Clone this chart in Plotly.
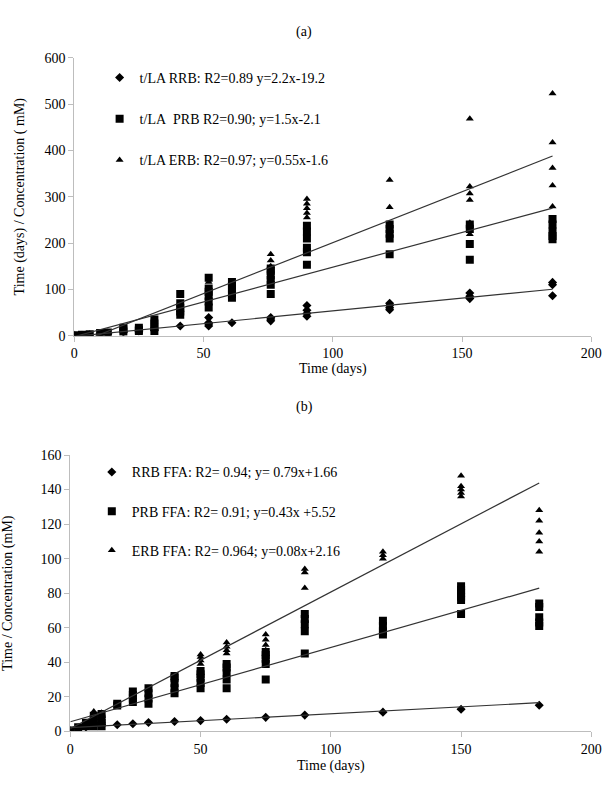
import numpy as np
import plotly.graph_objects as go

# ---------------- Panel (a) data ----------------
a_rrb_x = [0, 3, 6, 10, 13, 19, 25, 31, 41, 52, 52, 52, 52, 61, 76, 76, 76,
           90, 90, 90, 90, 122, 122, 122, 122, 153, 153, 153, 185, 185, 185]
a_rrb_y = [0.5, 1, 2, 4, 4, 8, 10, 12, 21, 21, 25, 28, 39, 28, 32, 36, 39,
           42, 48, 55, 65, 56, 60, 65, 70, 80, 85, 92, 86, 110, 115]

a_prb_x = [0, 3, 6, 10, 13, 19, 19, 19, 25, 25, 25, 31, 31, 31, 31,
           41, 41, 41, 41, 41, 52, 52, 52, 52, 52, 52, 61, 61, 61, 61, 61,
           76, 76, 76, 76, 76, 76, 90, 90, 90, 90, 90, 90,
           122, 122, 122, 122, 122, 153, 153, 153, 153, 185, 185, 185, 185, 185]
a_prb_y = [1, 2, 3, 6, 7, 9, 14, 17, 10, 13, 17, 10, 18, 26, 35,
           45, 52, 60, 70, 90, 61, 74, 85, 95, 102, 125, 82, 90, 100, 108, 116,
           90, 110, 120, 130, 140, 145, 153, 180, 190, 210, 225, 237,
           176, 210, 220, 230, 240, 164, 198, 230, 240, 208, 215, 225, 240, 252]

a_erb_x = [0, 3, 6, 10, 13, 31, 41, 52, 52, 61, 76, 76, 76,
           90, 90, 90, 90, 90, 122, 122, 153, 153, 153, 153, 153, 153,
           185, 185, 185, 185, 185]
a_erb_y = [1, 2, 3, 7, 8, 20, 55, 100, 116, 105, 150, 162, 176,
           255, 265, 275, 285, 295, 277, 336, 219, 244, 293, 307, 322, 468,
           279, 324, 362, 417, 523]

# trend lines as drawn (slope, intercept) for RRB, PRB, ERB point clouds
a_slope = [0.55, 1.5, 2.2]
a_icpt = [-1.6, -2.1, -19.2]
a_labels = ["t/LA RRB: R2=0.89 y=2.2x-19.2",
            "t/LA\u00a0 PRB R2=0.90; y=1.5x-2.1",
            "t/LA ERB: R2=0.97; y=0.55x-1.6"]

# ---------------- Panel (b) data ----------------
b_rrb_x = [0, 3, 6, 9, 12, 18, 24, 30, 40, 50, 60, 75, 90, 120, 150, 180]
b_rrb_y = [0.5, 1.5, 2.5, 3.5, 3.8, 3.8, 4.4, 5.1, 5.7, 6.2, 7, 8.1, 9.4, 11.1, 12.8, 15.1]

b_prb_x = [0, 3, 6, 6, 6, 9, 9, 9, 9, 12, 12, 12, 12, 18, 18,
           24, 24, 24, 24, 30, 30, 30, 30, 40, 40, 40, 40, 40,
           50, 50, 50, 50, 50, 60, 60, 60, 60, 60, 75, 75, 75, 75, 75,
           90, 90, 90, 90, 90, 120, 120, 120, 120,
           150, 150, 150, 150, 150, 150, 180, 180, 180, 180, 180]
b_prb_y = [0.5, 2.4, 3, 4, 5, 3, 5, 7, 9, 3, 5, 7, 10, 15, 16,
           17, 19, 21, 23, 16, 19, 22, 25, 22, 25, 28, 31, 32,
           25, 28, 31, 33, 35, 25, 30, 34, 37, 39, 30, 39, 42, 44, 46,
           45, 58, 62, 65, 68, 56, 58, 61, 64,
           68, 76, 78, 80, 82, 84, 61, 63, 66, 72, 74]

b_erb_x = [0, 3, 6, 9, 9, 9, 12, 12, 50, 50, 50, 50, 60, 60, 60, 60,
           75, 75, 75, 75, 90, 90, 90, 120, 120, 120,
           150, 150, 150, 150, 150, 180, 180, 180, 180, 180]
b_erb_y = [0.5, 2.5, 5, 8, 10, 11.5, 9, 10.8, 39, 41, 43, 44.5, 45, 47, 49, 51.5,
           47, 50, 53, 56, 83, 92, 94, 100, 102, 104,
           136, 138, 140, 142, 148, 104, 110, 115, 122, 128]

# trend lines as drawn (slope, intercept) for RRB, PRB, ERB point clouds
b_slope = [0.08, 0.43, 0.79]
b_icpt = [2.16, 5.52, 1.66]
b_labels = ["RRB FFA: R2= 0.94; y= 0.79x+1.66",
            "PRB FFA: R2= 0.91; y=0.43x +5.52",
            "ERB FFA: R2= 0.964; y=0.08x+2.16"]

FONT = "Liberation Serif"
symbols = ["diamond", "square", "triangle-up"]
sizes = [7, 8, 7]

fig = go.Figure()


def add_panel(xs_list, ys_list, slopes, icpts, labels, xaxis, yaxis, legend):
    for i, (xs, ys) in enumerate(zip(xs_list, ys_list)):
        fig.add_trace(go.Scatter(
            x=xs, y=ys, mode="markers", name=labels[i],
            marker=dict(symbol=symbols[i], size=sizes[i], color="black"),
            xaxis=xaxis, yaxis=yaxis, legend=legend,
            legendgroup=legend + str(i), showlegend=True))
    for i, xs in enumerate(xs_list):
        lx = np.array([min(xs), max(xs)], dtype=float)
        ly = slopes[i] * lx + icpts[i]
        fig.add_trace(go.Scatter(
            x=lx, y=ly, mode="lines", line=dict(color="#333333", width=1.2),
            xaxis=xaxis, yaxis=yaxis, showlegend=False, hoverinfo="skip"))


add_panel([a_rrb_x, a_prb_x, a_erb_x], [a_rrb_y, a_prb_y, a_erb_y],
          a_slope, a_icpt, a_labels, "x", "y", "legend")
add_panel([b_rrb_x, b_prb_x, b_erb_x], [b_rrb_y, b_prb_y, b_erb_y],
          b_slope, b_icpt, b_labels, "x2", "y2", "legend2")

W, H = 615, 792
axis_common = dict(showgrid=False, zeroline=False, showline=True,
                   linecolor="#bdbdbd", linewidth=1, ticks="outside",
                   ticklen=5, tickcolor="#bdbdbd",
                   tickfont=dict(family=FONT, size=14, color="black"))

fig.update_layout(
    width=W, height=H, margin=dict(l=0, r=0, t=0, b=0),
    paper_bgcolor="white", plot_bgcolor="white",
    font=dict(family=FONT, size=14, color="black"),
    xaxis=dict(axis_common, domain=[72 / W, 602 / W], range=[0, 200], dtick=50,
               anchor="y",
               title=dict(text="Time (days)", standoff=2,
                          font=dict(family=FONT, size=14))),
    yaxis=dict(axis_common, domain=[1 - 335 / H, 1 - 51.7 / H], range=[0, 600],
               dtick=100, anchor="x",
               title=dict(text="Time (days) / Concentration ( mM)", standoff=16,
                          font=dict(family=FONT, size=14))),
    xaxis2=dict(axis_common, domain=[68 / W, 602 / W], range=[0, 200], dtick=50,
                anchor="y2",
                title=dict(text="Time (days)", standoff=4,
                           font=dict(family=FONT, size=14))),
    yaxis2=dict(axis_common, domain=[1 - 738.3 / H, 1 - 456.7 / H], range=[0, 160],
                dtick=20, anchor="x2",
                title=dict(text="Time / Concentration (mM)", standoff=24,
                           font=dict(family=FONT, size=14))),
    legend=dict(x=98 / W, y=1 - 56 / H, xanchor="left", yanchor="top",
                bgcolor="rgba(0,0,0,0)", tracegroupgap=20, itemsizing="trace",
                itemwidth=30,
                font=dict(family=FONT, size=14, color="black")),
    legend2=dict(x=90 / W, y=1 - 458 / H, xanchor="left", yanchor="top",
                 bgcolor="rgba(0,0,0,0)", tracegroupgap=18, itemsizing="trace",
                 itemwidth=30,
                 font=dict(family=FONT, size=14, color="black")),
    annotations=[
        dict(text="(a)", x=0.5, y=1 - 15 / H, xref="paper", yref="paper",
             showarrow=False, font=dict(family=FONT, size=14)),
        dict(text="(b)", x=0.5, y=1 - 408 / H, xref="paper", yref="paper",
             showarrow=False, font=dict(family=FONT, size=14)),
    ],
)

fig.write_html("out.html")
